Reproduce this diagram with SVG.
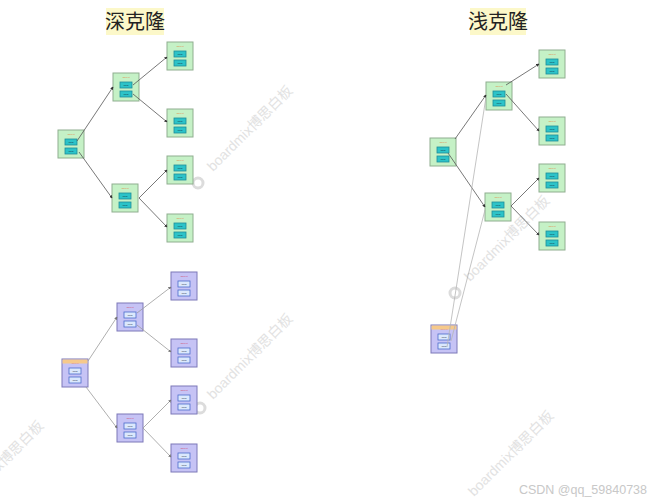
<svg xmlns="http://www.w3.org/2000/svg" width="649" height="500" viewBox="0 0 649 500">
<defs>
<style>
.title{font-family:"Liberation Sans","Noto Sans CJK SC",sans-serif;font-size:20px;fill:#222;text-anchor:middle}
.tbg{fill:#fcf8c9}
.g{fill:#c5f1c6;stroke:#8fae8f;stroke-width:1}
.gf{fill:#2cc3c8;stroke:#1e8d9a;stroke-width:0.8}
.p{fill:#c6c3f5;stroke:#7d78b8;stroke-width:1}
.pf{fill:#dbe8fc;stroke:#4c6ccc;stroke-width:0.8}
.hd{font-family:"Liberation Sans",sans-serif;font-size:2.5px;fill:#e08a4a;text-anchor:middle}
.ft{font-family:"Liberation Sans",sans-serif;font-size:2.5px;fill:#123;text-anchor:middle}
.bar{fill:#f6c98a}
.e{stroke:#555;stroke-width:0.8;fill:none;marker-end:url(#a)}
.ep{stroke:#9a9a9a;stroke-width:0.8;fill:none;marker-end:url(#a2)}
.el{stroke:#b5b5b5;stroke-width:0.8;fill:none}
.wm{font-family:"Liberation Sans","Noto Sans CJK SC",sans-serif;font-size:14px;fill:#e2e2e2}
.logo{fill:none;stroke:#dcdcdc;stroke-width:3}
.csdn{font-family:"Liberation Sans",sans-serif;font-size:12.5px;fill:#c8c8c8;text-anchor:end}
</style>
<marker id="a" viewBox="0 0 6 6" refX="5" refY="3" markerWidth="4" markerHeight="4" orient="auto"><path d="M0,0L6,3L0,6z" fill="#333"/></marker>
<marker id="a2" viewBox="0 0 6 6" refX="5" refY="3" markerWidth="4" markerHeight="4" orient="auto"><path d="M0,0L6,3L0,6z" fill="#777"/></marker>
<g id="gnode"><rect class="g" x="0" y="0" width="26" height="28"/><text class="hd" x="13" y="5">Object</text><rect class="gf" x="7" y="9" width="12" height="6"/><text class="ft" x="13" y="13">field</text><rect class="gf" x="7" y="18" width="12" height="6"/><text class="ft" x="13" y="22">field</text></g>
<g id="pnode"><rect class="p" x="0" y="0" width="26" height="28"/><text class="hd" x="13" y="5" style="fill:#d05070">Object</text><rect class="pf" x="7" y="9" width="12" height="6"/><text class="ft" x="13" y="13">field</text><rect class="pf" x="7" y="18" width="12" height="6"/><text class="ft" x="13" y="22">field</text></g>
</defs>
<rect width="649" height="500" fill="#fff"/>

<g id="watermarks">
<circle class="logo" cx="198" cy="183" r="5"/>
<text class="wm" x="213" y="172" transform="rotate(-45 213 172)">boardmix博思白板</text>
<circle class="logo" cx="200" cy="408" r="5"/>
<text class="wm" x="213" y="400" transform="rotate(-45 213 400)">boardmix博思白板</text>
<circle class="logo" cx="455" cy="293" r="5"/>
<text class="wm" x="470" y="282" transform="rotate(-45 470 282)">boardmix博思白板</text>
<text class="wm" x="474" y="497" transform="rotate(-45 474 497)">boardmix博思白板</text>
<text class="wm" x="-36" y="507" transform="rotate(-45 -36 507)">boardmix博思白板</text>
</g>

<g id="title-deep"><rect class="tbg" x="106" y="8" width="58" height="27"/><text class="title" x="135" y="29">深克隆</text></g>
<g id="title-shallow"><rect class="tbg" x="470" y="8" width="56" height="27"/><text class="title" x="498" y="29">浅克隆</text></g>

<g id="dg-root"><use href="#gnode" x="58" y="130"/></g>
<g id="dg-l1a"><use href="#gnode" x="113" y="73"/></g>
<g id="dg-l1b"><use href="#gnode" x="112" y="184"/></g>
<g id="dg-leaf1"><use href="#gnode" x="167" y="42"/></g>
<g id="dg-leaf2"><use href="#gnode" x="167" y="109"/></g>
<g id="dg-leaf3"><use href="#gnode" x="167" y="156"/></g>
<g id="dg-leaf4"><use href="#gnode" x="167" y="214"/></g>

<g id="sg-root"><use href="#gnode" x="430" y="138"/></g>
<g id="sg-l1a"><use href="#gnode" x="486" y="82"/></g>
<g id="sg-l1b"><use href="#gnode" x="485" y="193"/></g>
<g id="sg-leaf1"><use href="#gnode" x="539" y="50"/></g>
<g id="sg-leaf2"><use href="#gnode" x="539" y="117"/></g>
<g id="sg-leaf3"><use href="#gnode" x="539" y="164"/></g>
<g id="sg-leaf4"><use href="#gnode" x="539" y="222"/></g>
<g id="sp-root"><use href="#pnode" x="431" y="325"/><rect class="bar" x="431.5" y="325.5" width="25" height="4"/></g>

<g id="dp-root"><use href="#pnode" x="62" y="359"/><rect class="bar" x="62.5" y="359.5" width="25" height="4"/></g>
<g id="dp-l1a"><use href="#pnode" x="117" y="303"/></g>
<g id="dp-l1b"><use href="#pnode" x="117" y="414"/></g>
<g id="dp-leaf1"><use href="#pnode" x="171" y="272"/></g>
<g id="dp-leaf2"><use href="#pnode" x="171" y="339"/></g>
<g id="dp-leaf3"><use href="#pnode" x="171" y="386"/></g>
<g id="dp-leaf4"><use href="#pnode" x="171" y="444"/></g>

<g id="connectors">
<line class="e" x1="77" y1="141" x2="113" y2="87"/>
<line class="e" x1="79" y1="152" x2="112" y2="198"/>
<line class="e" x1="133" y1="85" x2="167" y2="57"/>
<line class="e" x1="133" y1="94" x2="167" y2="122"/>
<line class="e" x1="139" y1="198" x2="167" y2="170"/>
<line class="e" x1="139" y1="198" x2="167" y2="227"/>
<line class="e" x1="455" y1="139" x2="486" y2="95"/>
<line class="e" x1="448" y1="153" x2="485" y2="207"/>
<line class="e" x1="506" y1="85" x2="539" y2="64"/>
<line class="e" x1="506" y1="94" x2="539" y2="131"/>
<line class="e" x1="511" y1="206" x2="539" y2="178"/>
<line class="e" x1="511" y1="206" x2="539" y2="235"/>
<line class="el" x1="447" y1="347" x2="486" y2="97"/>
<line class="el" x1="451" y1="341" x2="485" y2="210"/>
<line class="ep" x1="88" y1="361" x2="117" y2="317"/>
<line class="ep" x1="86" y1="387" x2="117" y2="428"/>
<line class="ep" x1="137" y1="313" x2="171" y2="287"/>
<line class="ep" x1="137" y1="325" x2="171" y2="352"/>
<line class="ep" x1="143" y1="428" x2="171" y2="400"/>
<line class="ep" x1="143" y1="428" x2="171" y2="457"/>
</g>

<text class="csdn" x="647" y="494">CSDN @qq_59840738</text>
</svg>
